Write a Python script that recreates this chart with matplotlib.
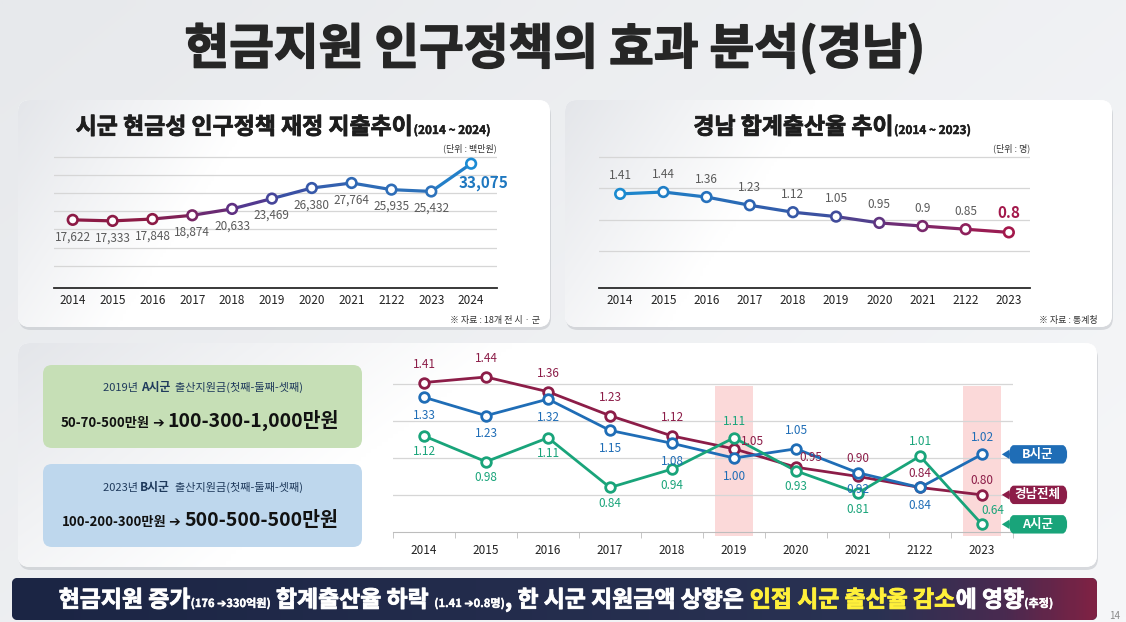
import numpy as np
import matplotlib.pyplot as plt
import matplotlib.patheffects as pe
from matplotlib.patches import FancyBboxPatch, Rectangle, Polygon
from matplotlib.colors import LinearSegmentedColormap, to_rgb
from matplotlib.transforms import blended_transform_factory

plt.rcParams['font.family'] = ['Noto Sans CJK KR', 'DejaVu Sans']

W, H = 1126, 622

# ---- data ----
years_spend = ['2014', '2015', '2016', '2017', '2018', '2019', '2020', '2021', '2122', '2023', '2024']
spend = [17622, 17333, 17848, 18874, 20633, 23469, 26380, 27764, 25935, 25432, 33075]

years_tfr = ['2014', '2015', '2016', '2017', '2018', '2019', '2020', '2021', '2122', '2023']
tfr = [1.41, 1.44, 1.36, 1.23, 1.12, 1.05, 0.95, 0.90, 0.85, 0.80]
tfr_text = ['1.41', '1.44', '1.36', '1.23', '1.12', '1.05', '0.95', '0.9', '0.85', '0.8']

years_cmp = ['2014', '2015', '2016', '2017', '2018', '2019', '2020', '2021', '2122', '2023']
gn_total = [1.41, 1.44, 1.36, 1.23, 1.12, 1.05, 0.95, 0.90, 0.84, 0.80]
city_b = [1.33, 1.23, 1.32, 1.15, 1.08, 1.00, 1.05, 0.92, 0.84, 1.02]
city_a = [1.12, 0.98, 1.11, 0.84, 0.94, 1.11, 0.93, 0.81, 1.01, 0.64]
highlight = ['2019', '2023']

fig = plt.figure(figsize=(W / 100, H / 100), dpi=100)
bg = fig.add_axes([0, 0, 1, 1])
bg.axis('off')


def fr(x0, y0, x1, y1):
    return [x0 / W, 1 - y1 / H, (x1 - x0) / W, (y1 - y0) / H]


def thick(lw, color):
    return [pe.withStroke(linewidth=lw, foreground=color)]


# slide background
u = np.linspace(0, 1, 200)[None, :]
v = np.linspace(0, 1, 60)[:, None]
t = np.clip(u * 0.6 + v * 0.4, 0, 1)[..., None]
img = np.array(to_rgb('#e7e9ec')) * (1 - t) + np.array(to_rgb('#f6f7f9')) * t
bg.imshow(img, extent=(0, W, H, 0), aspect='auto', zorder=1, interpolation='bilinear')


def panel(x0, y0, x1, y1, r=12):
    sh = FancyBboxPatch((x0 + 1, y0 + 3), x1 - x0, y1 - y0,
                        boxstyle=f"round,pad=0,rounding_size={r}",
                        fc='#c3c6cb', ec='none', alpha=0.6, zorder=2)
    bg.add_patch(sh)
    p = FancyBboxPatch((x0, y0), x1 - x0, y1 - y0,
                       boxstyle=f"round,pad=0,rounding_size={r}",
                       fc='white', ec='none', zorder=3)
    bg.add_patch(p)
    t = np.clip(u * 2.2 + v * 0.6, 0, 1)[..., None]
    g = np.array(to_rgb('#e4e6ea')) * (1 - t) + np.array(to_rgb('#ffffff')) * t
    im = bg.imshow(g, extent=(x0, x1, y1, y0), aspect='auto', zorder=4, interpolation='bilinear')
    im.set_clip_path(p)


panel(18, 100, 550, 327)
panel(565, 100, 1112, 327)
panel(18, 343, 1097, 567)

bg.set_xlim(0, W)
bg.set_ylim(H, 0)


def seq(parts, x, y, ha='left', stroke=0):
    r = fig.canvas.get_renderer()
    items = []
    cx = x
    for s, size, color, weight in parts:
        t = bg.text(cx, y, s, fontsize=size, color=color, fontweight=weight,
                    va='baseline', ha='left', zorder=10)
        if stroke and weight == 'bold':
            t.set_path_effects(thick(stroke * size / 14, color))
        w = t.get_window_extent(r).width
        items.append(t)
        cx += w
    total = cx - x
    if ha == 'center':
        for t in items:
            px, py = t.get_position()
            t.set_x(px - total / 2)
    return total


# main title
bg.text(555, 64, '현금지원 인구정책의 효과 분석(경남)', fontsize=35, fontweight='heavy',
        ha='center', va='baseline', color='#262626', zorder=10,
        path_effects=thick(1.1, '#262626'))

# panel titles
seq([('시군 현금성 인구정책 재정 지출추이', 16.5, '#1e1e1e', 'bold'),
     ('(2014 ~ 2024)', 8.5, '#1e1e1e', 'bold')], 283, 134, ha='center', stroke=0.5)
seq([('경남 합계출산율 추이', 16.5, '#1e1e1e', 'bold'),
     ('(2014 ~ 2023)', 8.5, '#1e1e1e', 'bold')], 832, 134, ha='center', stroke=0.5)

bg.text(497, 148, '(단위 : 백만원)', fontsize=6.5, color='#333333', ha='right', va='center', zorder=10)
bg.text(540, 320, '※ 자료 : 18개 전 시 · 군', fontsize=6.5, color='#333333', ha='right', va='center', zorder=10)
bg.text(1030, 148, '(단위 : 명)', fontsize=6.5, color='#333333', ha='right', va='center', zorder=10)
bg.text(1098, 320, '※ 자료 : 통계청', fontsize=6.5, color='#333333', ha='right', va='center', zorder=10)


def style_axis(ax):
    ax.set_facecolor('none')
    for s in ['top', 'right', 'left']:
        ax.spines[s].set_visible(False)
    ax.spines['bottom'].set_color('#2a2a2a')
    ax.spines['bottom'].set_linewidth(1.3)
    ax.tick_params(axis='x', length=0, pad=4, labelsize=8.5, labelcolor='#222222')
    ax.set_yticks([])


def grad_line(ax, xs, ys, cmap):
    n = len(xs)
    for i in range(n - 1):
        ax.plot(xs[i:i + 2], ys[i:i + 2], color=cmap((i + 0.5) / (n - 1)), lw=2.3,
                solid_capstyle='round', zorder=2)
    ax.scatter(xs, ys, s=48, facecolor='white',
               edgecolors=[cmap(i / (n - 1)) for i in range(n)], linewidths=1.9, zorder=3)


# ---- top-left: spending ----
ax1 = fig.add_axes(fr(54, 150, 497, 288))
style_axis(ax1)
x1 = np.arange(len(years_spend))
ax1.set_xlim(-0.47, 10.65)
ax1.set_ylim(-1137, 36844)
for g in range(5000, 35001, 5000):
    ax1.axhline(g, color='#d6d6d6', lw=0.9, zorder=1)
cm1 = LinearSegmentedColormap.from_list('c1', [(0, '#8c1a45'), (0.2, '#8c1a45'), (0.42, '#5a3288'),
                                               (0.55, '#3a50a4'), (0.7, '#2f68b4'), (0.9, '#2d72ba'),
                                               (1, '#1b8bd4')])
grad_line(ax1, x1, spend, cm1)
ax1.set_xticks(x1)
ax1.set_xticklabels(years_spend)
for i, val in enumerate(spend[:-1]):
    ax1.annotate(f'{val:,}', (x1[i], val), xytext=(0, -17), textcoords='offset pixels',
                 ha='center', va='center', fontsize=8.5, color='#5a5a5a', zorder=5)
ax1.annotate(f'{spend[-1]:,}', (x1[-1], spend[-1]), xytext=(12, -19), textcoords='offset pixels',
             ha='center', va='center', fontsize=11, fontweight='bold', color='#1f78c0', zorder=5)

# ---- top-right: TFR ----
ax2 = fig.add_axes(fr(599, 150, 1030, 288))
style_axis(ax2)
x2 = np.arange(len(years_tfr))
ax2.set_xlim(-0.49, 9.49)
ax2.set_ylim(-0.082, 2.106)
for g in [0.5, 1.0, 1.5, 2.0]:
    ax2.axhline(g, color='#d6d6d6', lw=0.9, zorder=1)
cm2 = LinearSegmentedColormap.from_list('c2', [(0, '#1b8bd0'), (0.3, '#2a68b4'), (0.55, '#3f4c9c'),
                                               (0.7, '#6a2f78'), (1, '#a3184b')])
grad_line(ax2, x2, tfr, cm2)
ax2.set_xticks(x2)
ax2.set_xticklabels(years_tfr)
for i, val in enumerate(tfr[:-1]):
    ax2.annotate(tfr_text[i], (x2[i], val), xytext=(0, 18), textcoords='offset pixels',
                 ha='center', va='center', fontsize=8.5, color='#5a5a5a', zorder=5)
ax2.annotate(tfr_text[-1], (x2[-1], tfr[-1]), xytext=(0, 19), textcoords='offset pixels',
             ha='center', va='center', fontsize=11, fontweight='bold', color='#a3184b', zorder=5)

# ---- bottom-left boxes ----
for (y0, y1, c) in [(365, 448, '#c6dfb6'), (464, 547, '#bed7ed')]:
    bg.add_patch(FancyBboxPatch((43, y0), 319, y1 - y0, boxstyle="round,pad=0,rounding_size=9",
                                fc=c, ec='none', zorder=6))
navy = '#1f3a5c'
seq([('2019년 ', 8, navy, 'normal'), ('A시군', 8.5, navy, 'bold'),
     ('  출산지원금(첫째-둘째-셋째)', 8, navy, 'medium')], 203, 391, ha='center')
seq([('50-70-500만원', 9.5, '#111111', 'bold'), (' ➔ ', 10, '#111111', 'bold'),
     ('100-300-1,000만원', 14, '#111111', 'bold')], 200, 427, ha='center')
seq([('2023년 ', 8, navy, 'normal'), ('B시군', 8.5, navy, 'bold'),
     ('  출산지원금(첫째-둘째-셋째)', 8, navy, 'medium')], 203, 491, ha='center')
seq([('100-200-300만원', 9.5, '#111111', 'bold'), (' ➔ ', 10, '#111111', 'bold'),
     ('500-500-500만원', 14, '#111111', 'bold')], 200, 526, ha='center')

# ---- bottom chart ----
ax3 = fig.add_axes(fr(393, 370, 1013, 531.7))
ax3.set_facecolor('none')
for s in ['top', 'right', 'left']:
    ax3.spines[s].set_visible(False)
ax3.spines['bottom'].set_color('#bdbdbd')
x3 = np.arange(len(years_cmp))
ax3.set_xlim(-0.5, 9.5)
ax3.set_ylim(0.6, 1.478)
ax3.set_yticks([])
ax3.set_xticks(x3)
ax3.set_xticklabels(years_cmp)
ax3.set_xticks(np.arange(-0.5, 10, 1), minor=True)
ax3.tick_params(axis='x', which='major', length=0, pad=9, labelsize=8.5, labelcolor='#222222')
ax3.tick_params(axis='x', which='minor', length=4, color='#bdbdbd')
for g in [0.8, 1.0, 1.2, 1.4]:
    ax3.axhline(g, color='#d6d6d6', lw=0.9, zorder=1)
for yr in highlight:
    k = years_cmp.index(yr)
    ax3.add_patch(Rectangle((k - 0.3, 0.575), 0.6, 0.815, fc='#fbd3d3', ec='none',
                            alpha=0.85, zorder=0.5, clip_on=False))

c_gn, c_b, c_a = '#8c1d48', '#1f6db6', '#19a47a'
series = [
    (gn_total, c_gn, [(0, 18), (0, 18), (0, 18), (0, 18), (0, 18), (19, 7), (15, 10), (0, 18), (0, 14), (0, 14)]),
    (city_b, c_b, [(0, -18), (0, -18), (0, -18), (0, -18), (0, -18), (0, -18), (0, 18), (0, -17), (0, -18), (0, 17)]),
    (city_a, c_a, [(0, -16), (0, -16), (0, -16), (0, -16), (0, -16), (0, 16), (0, -16), (0, -16), (0, 15), (11, 14)]),
]
for vals, col, offs in series:
    ax3.plot(x3, vals, color=col, lw=2, zorder=2)
    ax3.scatter(x3, vals, s=48, facecolor='white', edgecolors=col, linewidths=2, zorder=3)
    for i, val in enumerate(vals):
        ax3.annotate(f'{val:.2f}', (x3[i], val), xytext=offs[i], textcoords='offset pixels',
                     ha='center', va='center', fontsize=8.5, color=col, zorder=5)

# series tags
tr = blended_transform_factory(ax3.transAxes, ax3.transData)
bh = 0.1
for name, vals, col in [('B시군', city_b, c_b), ('경남전체', gn_total, c_gn), ('A시군', city_a, c_a)]:
    y = vals[-1]
    ax3.add_patch(FancyBboxPatch((0.993, y - bh / 2), 0.095, bh, boxstyle="round,pad=0,rounding_size=0.008",
                                 fc=col, ec='none', transform=tr, clip_on=False, zorder=6,
                                 mutation_aspect=10))
    ax3.add_patch(Polygon([(0.982, y), (0.994, y + 0.025), (0.994, y - 0.025)], closed=True,
                          fc=col, ec='none', transform=tr, clip_on=False, zorder=6))
    ax3.text(1.040, y, name, transform=tr, ha='center', va='center', fontsize=9,
             fontweight='bold', color='white', zorder=7)

# ---- bottom banner ----
ban = FancyBboxPatch((12, 578), 1085, 42, boxstyle="round,pad=0,rounding_size=6",
                     fc='#1d2747', ec='none', zorder=6)
bg.add_patch(ban)
cmb = LinearSegmentedColormap.from_list('ban', [(0, '#1b2544'), (0.8, '#2a3253'), (0.92, '#4a2a50'), (1, '#7e2244')])
img = cmb(np.repeat(np.linspace(0, 1, 300)[None, :], 10, axis=0))
im = bg.imshow(img, extent=(12, 1097, 620, 578), aspect='auto', zorder=7, interpolation='bilinear')
im.set_clip_path(ban)
bg.set_xlim(0, W)
bg.set_ylim(H, 0)

big, small = 16.5, 8
wc, yc = 'white', '#fff03a'
seq([('현금지원 증가', big, wc, 'bold'), ('(176 ➔330억원)', small, wc, 'bold'),
     (' 합계출산율 하락 ', big, wc, 'bold'), ('(1.41 ➔0.8명)', small, wc, 'bold'),
     (', 한 시군 지원금액 상향은 ', big, wc, 'bold'), ('인접 시군 출산율 감소', big, yc, 'bold'),
     ('에 영향', big, wc, 'bold'), ('(추정)', small, wc, 'bold')], 556, 607, ha='center', stroke=0.5)

bg.text(1115, 616, '14', fontsize=7, color='#8a8a8a', ha='center', va='center', zorder=10)

fig.savefig('out.png', dpi=100)
